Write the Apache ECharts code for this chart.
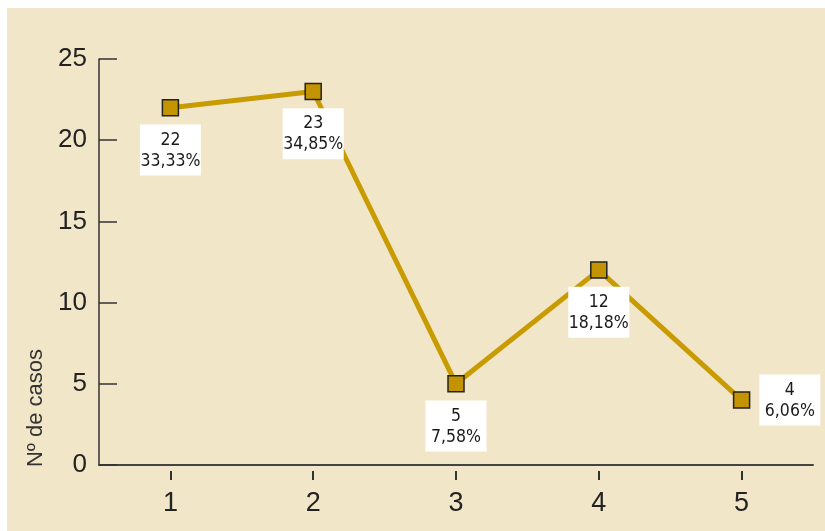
<!DOCTYPE html>
<html>
<head>
<meta charset="utf-8">
<script src="https://cdn.jsdelivr.net/npm/echarts@6/dist/echarts.min.js"></script>
<style>
html,body{margin:0;padding:0;background:#ffffff;}
#chart{width:825px;height:531px;}
</style>
</head>
<body>
<div id="chart"></div>
<script>
var categories = ['1', '2', '3', '4', '5'];
var casos = [22, 23, 5, 12, 4];
var porcentajes = ['33,33%', '34,85%', '7,58%', '18,18%', '6,06%'];
var yTicks = [0, 5, 10, 15, 20, 25];
var yAxisName = 'Nº de casos';

var chart = echarts.init(document.getElementById('chart'));

var labelFont = "'Liberation Sans Narrow', 'DejaVu Sans Condensed', sans-serif";

var labelBase = {
  show: true,
  position: 'bottom',
  distance: 8,
  backgroundColor: '#ffffff',
  padding: [5, 3, 4, 3],
  formatter: function (p) { return '{t|' + casos[p.dataIndex] + '}\n{t|' + porcentajes[p.dataIndex] + '}'; },
  rich: {
    t: { width: 55, align: 'center', fontFamily: labelFont, fontSize: 17.5, lineHeight: 21, color: '#1a1a1a' }
  }
};

var seriesData = casos.map(function (v, i) {
  var d = { value: v };
  if (i === casos.length - 1) {
    d.label = { position: 'right', distance: 9 };
  }
  return d;
});

chart.setOption({
  backgroundColor: 'transparent',
  animation: false,
  graphic: [
    { type: 'rect', left: 7, top: 8, shape: { width: 818, height: 523 }, style: { fill: '#F2E6C9' }, z: -100, silent: true },
    { type: 'text', x: 36, y: 408, rotation: Math.PI / 2, style: { text: yAxisName, fontFamily: "'Liberation Sans', Arial, sans-serif", fontSize: 22, fill: '#333333', textAlign: 'center', textVerticalAlign: 'middle' }, z: 10 }
  ],
  grid: { left: 99, right: 12, top: 59, bottom: 66, containLabel: false },
  xAxis: [
    {
      type: 'category', data: categories, boundaryGap: true, position: 'bottom',
      axisLine: { show: true, lineStyle: { color: '#444444', width: 2 } },
      axisTick: { show: false }, axisLabel: { show: false }, splitLine: { show: false }
    },
    {
      type: 'category', data: categories, boundaryGap: true, position: 'bottom', offset: 6,
      axisLine: { show: false },
      axisTick: { show: true, alignWithLabel: true, length: 9, lineStyle: { color: '#333333', width: 2 } },
      axisLabel: { show: true, margin: 19, fontFamily: "'Liberation Sans', Arial, sans-serif", fontSize: 27, color: '#222222' },
      splitLine: { show: false }
    }
  ],
  yAxis: {
    type: 'value', min: yTicks[0], max: yTicks[yTicks.length - 1], interval: 5,
    axisLine: { show: true, lineStyle: { color: '#333333', width: 1.5 } },
    axisTick: { show: true, inside: true, length: 18, lineStyle: { color: '#333333', width: 1.5 } },
    axisLabel: { margin: 12, fontFamily: "'Liberation Sans', Arial, sans-serif", fontSize: 26, color: '#222222' },
    splitLine: { show: false }
  },
  series: [{
    type: 'line',
    xAxisIndex: 0,
    data: seriesData,
    symbol: 'rect',
    symbolSize: 16,
    lineStyle: { color: '#C89B00', width: 5 },
    itemStyle: { color: '#C49400', borderColor: '#222222', borderWidth: 1.5 },
    label: labelBase,
    z: 3
  }]
});
</script>
</body>
</html>
